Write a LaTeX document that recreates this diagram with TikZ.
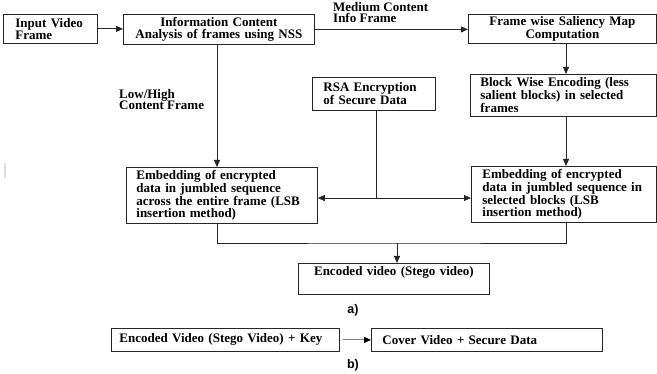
\documentclass[tikz,border=0pt]{standalone}
\usepackage{fontspec}
\setmainfont{Liberation Serif}
\newfontfamily\labsans{Liberation Sans}
\usetikzlibrary{arrows.meta,calc}
\newcommand\mybf{\fontsize{13}{11.5}\selectfont\bfseries}
\tikzset{
  box/.style={draw=black!85, line width=0.8pt, anchor=north west, inner ysep=0pt, font=\mybf},
  lbox/.style={box, align=left},
  cbox/.style={box, align=center, inner xsep=4pt},
  arr/.style={draw=black!85, line width=0.8pt, -{Triangle[length=7pt,width=6pt]}},
  ln/.style={draw=black!85, line width=0.8pt},
  lab/.style={anchor=north west, inner sep=0pt, align=left, font=\mybf},
  subcap/.style={font=\labsans\fontsize{12.5}{13}\selectfont\bfseries, inner sep=0pt}
}
\begin{document}
\begin{tikzpicture}[x=1pt,y=-1pt]
\fill[white] (0,0) rectangle (657,374);
\useasboundingbox (0,0) rectangle (657,374);
% boxes
\node[lbox, inner xsep=12pt, text width=70pt, minimum height=29pt] (in) at (3,14) {Input Video\\Frame};
\node[cbox, text width=183pt, minimum height=30pt] (info) at (123,14) {Information Content\\Analysis of frames using NSS};
\node[cbox, text width=180pt, minimum height=29pt] (sal) at (468,14) {Frame wise Saliency Map\\Computation};
\node[lbox, inner xsep=10pt, text width=166pt, minimum height=42pt] (blk) at (470,74) {Block Wise Encoding (less\\salient blocks) in selected\\frames};
\node[lbox, inner xsep=11pt, text width=101pt, minimum height=33pt] (rsa) at (312,77) {RSA Encryption\\of Secure Data};
\node[lbox, inner xsep=10pt, text width=171pt, minimum height=56pt] (lemb) at (126,167) {Embedding of encrypted\\data in jumbled sequence\\across the entire frame (LSB\\insertion method)};
\node[lbox, inner xsep=11pt, text width=163pt, minimum height=56pt] (remb) at (471,166) {Embedding of encrypted\\data in jumbled sequence in\\selected blocks (LSB\\insertion method)};
\node[box, align=center, inner xsep=4pt, inner ysep=3pt, text width=183pt, text height=9pt, text depth=16pt] (enc) at (298,263) {Encoded video (Stego video)};
\node[lbox, inner xsep=8pt, text width=212pt, minimum height=23pt] (key) at (111,328) {Encoded Video (Stego Video) + Key};
\node[lbox, inner xsep=11pt, text width=209pt, minimum height=23pt] (cov) at (371,328) {Cover Video + Secure Data};
% labels
\node[lab] (lmed) at (333,2) {Medium Content\\Info Frame};
\node[lab] (llow) at (119,89) {Low/High\\Content Frame};
\node[subcap] (ca) at (353,310) {a)};
\node[subcap] (cb) at (353,365) {b)};
% helper coordinates
\coordinate (xa) at (217,0);
\coordinate (xb) at (566,0);
\coordinate (j) at (376,198);
\coordinate (m) at (397,243);
% connectors
\draw[arr] (in.east) -- (info.west |- in.east);
\draw[arr] (info.east) -- (sal.west |- info.east);
\draw[arr] (info.south -| xa) -- (lemb.north -| xa);
\draw[arr] (sal.south -| xb) -- (blk.north -| xb);
\draw[arr] (blk.south -| xb) -- (remb.north -| xb);
\draw[ln] (rsa.south -| j) -- (j);
\draw[arr] (j) -- (lemb.east |- j);
\draw[arr] (j) -- (remb.west |- j);
\draw[ln] (lemb.south -| xa) |- (m) -| (remb.south -| xb);
\draw[arr] (m) -- (enc.north -| m);
\draw[draw=gray, line width=0.8pt, shorten <=3pt, -{Triangle[length=7pt,width=6pt,color=black]}] (key.east) -- (cov.west);
% faint mark at left edge
\draw[gray!25, line width=2pt] (4.5,163) -- (4.5,178);
\end{tikzpicture}
\end{document}
